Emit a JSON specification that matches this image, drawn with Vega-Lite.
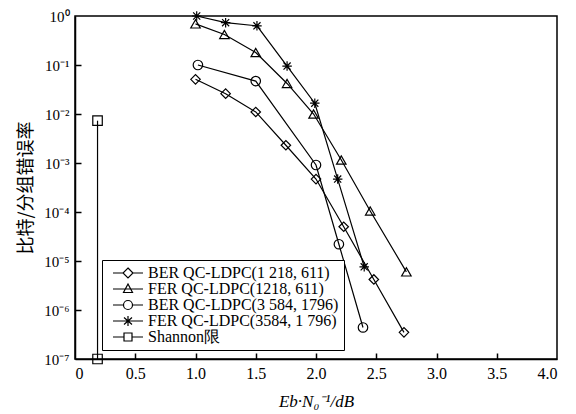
{
  "$schema": "https://vega.github.io/schema/vega-lite/v6.json",
  "width": 482,
  "height": 343,
  "autosize": {"type": "none"},
  "padding": {"left": 75, "top": 16, "right": 19, "bottom": 55},
  "background": "white",
  "config": {
    "font": "Times New Roman",
    "view": {"stroke": "black", "strokeWidth": 1.5},
    "axis": {
      "domainColor": "black",
      "domainWidth": 1.5,
      "tickColor": "black",
      "tickWidth": 1.5,
      "labelColor": "black",
      "titleColor": "black",
      "grid": false
    }
  },
  "data": {
    "values": [
      {"series": "BER QC-LDPC(1 218, 611)", "x": 1.0, "y": 0.051},
      {"series": "BER QC-LDPC(1 218, 611)", "x": 1.25, "y": 0.026},
      {"series": "BER QC-LDPC(1 218, 611)", "x": 1.5, "y": 0.011},
      {"series": "BER QC-LDPC(1 218, 611)", "x": 1.75, "y": 0.0023},
      {"series": "BER QC-LDPC(1 218, 611)", "x": 2.0, "y": 0.00047},
      {"series": "BER QC-LDPC(1 218, 611)", "x": 2.23, "y": 0.00005},
      {"series": "BER QC-LDPC(1 218, 611)", "x": 2.48, "y": 0.0000042},
      {"series": "BER QC-LDPC(1 218, 611)", "x": 2.73, "y": 0.00000035},
      {"series": "FER QC-LDPC(1218, 611)", "x": 1.0, "y": 0.69},
      {"series": "FER QC-LDPC(1218, 611)", "x": 1.24, "y": 0.42},
      {"series": "FER QC-LDPC(1218, 611)", "x": 1.5, "y": 0.18},
      {"series": "FER QC-LDPC(1218, 611)", "x": 1.76, "y": 0.042},
      {"series": "FER QC-LDPC(1218, 611)", "x": 1.98, "y": 0.01},
      {"series": "FER QC-LDPC(1218, 611)", "x": 2.21, "y": 0.00115},
      {"series": "FER QC-LDPC(1218, 611)", "x": 2.45, "y": 0.000105},
      {"series": "FER QC-LDPC(1218, 611)", "x": 2.75, "y": 0.000006},
      {"series": "BER QC-LDPC(3 584, 1796)", "x": 1.02, "y": 0.1},
      {"series": "BER QC-LDPC(3 584, 1796)", "x": 1.5, "y": 0.047},
      {"series": "BER QC-LDPC(3 584, 1796)", "x": 2.0, "y": 0.00091},
      {"series": "BER QC-LDPC(3 584, 1796)", "x": 2.19, "y": 0.000022},
      {"series": "BER QC-LDPC(3 584, 1796)", "x": 2.39, "y": 0.00000044},
      {"series": "FER QC-LDPC(3584, 1 796)", "x": 1.01, "y": 1.0},
      {"series": "FER QC-LDPC(3584, 1 796)", "x": 1.25, "y": 0.73},
      {"series": "FER QC-LDPC(3584, 1 796)", "x": 1.51, "y": 0.63},
      {"series": "FER QC-LDPC(3584, 1 796)", "x": 1.76, "y": 0.095},
      {"series": "FER QC-LDPC(3584, 1 796)", "x": 1.99, "y": 0.0166},
      {"series": "FER QC-LDPC(3584, 1 796)", "x": 2.18, "y": 0.00047},
      {"series": "FER QC-LDPC(3584, 1 796)", "x": 2.4, "y": 0.0000076},
      {"series": "Shannon限", "x": 0.187, "y": 0.0073},
      {"series": "Shannon限", "x": 0.187, "y": 0.0000001}
    ]
  },
  "layer": [
    {
      "mark": {"type": "line", "color": "black", "strokeWidth": 1.2},
      "encoding": {
        "x": {
          "field": "x",
          "type": "quantitative",
          "scale": {"domain": [0, 4], "nice": false, "zero": false},
          "axis": {
            "orient": "bottom",
            "values": [0, 0.5, 1, 1.5, 2, 2.5, 3, 3.5, 4],
            "labelExpr": "datum.value == 0 ? '0' : format(datum.value, '.1f')",
            "ticks": false,
            "labelFont": "Times New Roman",
            "labelFontSize": 16,
            "labelPadding": 6,
            "title": "Eb·N₀⁻¹/dB",
            "titleFont": "Times New Roman",
            "titleFontSize": 17,
            "titleFontStyle": "italic",
            "titleFontWeight": "normal",
            "titlePadding": 12
          }
        },
        "y": {
          "field": "y",
          "type": "quantitative",
          "scale": {"type": "log", "domain": [0.0000001, 1], "nice": false},
          "axis": {
            "orient": "left",
            "values": [0.0000001, 0.000001, 0.00001, 0.0001, 0.001, 0.01, 0.1, 1],
            "labelExpr": "['10⁰','10⁻¹','10⁻²','10⁻³','10⁻⁴','10⁻⁵','10⁻⁶','10⁻⁷'][abs(round(log(datum.value)/LN10))]",
            "ticks": false,
            "labelFont": "Times New Roman",
            "labelFontSize": 15,
            "labelPadding": 6,
            "title": "比特/分组错误率",
            "titleFont": "Noto Sans CJK SC",
            "titleFontSize": 18,
            "titleFontWeight": "normal",
            "titlePadding": 8
          }
        },
        "detail": {"field": "series"}
      }
    },
    {
      "mark": {"type": "point", "filled": false, "color": "black", "strokeWidth": 1.2, "size": 90, "opacity": 1},
      "encoding": {
        "x": {
          "field": "x",
          "type": "quantitative",
          "axis": {
            "orient": "bottom",
            "offset": -6,
            "values": [0.5, 1, 1.5, 2, 2.5, 3, 3.5],
            "domain": false,
            "labels": false,
            "ticks": true,
            "tickSize": 6,
            "title": null
          }
        },
        "y": {
          "field": "y",
          "type": "quantitative",
          "axis": {
            "orient": "left",
            "offset": -6,
            "values": [0.000001, 0.00001, 0.0001, 0.001, 0.01, 0.1],
            "domain": false,
            "labels": false,
            "ticks": true,
            "tickSize": 6,
            "title": null
          }
        },
        "shape": {
          "field": "series",
          "type": "nominal",
          "scale": {
            "domain": ["BER QC-LDPC(1 218, 611)", "FER QC-LDPC(1218, 611)", "BER QC-LDPC(3 584, 1796)", "FER QC-LDPC(3584, 1 796)", "Shannon限"],
            "range": ["diamond", "triangle-up", "circle", "M-1,0L1,0M0,-1L0,1M-0.75,-0.75L0.75,0.75M-0.75,0.75L0.75,-0.75", "square"]
          },
          "legend": null
        }
      }
    },
    {
      "transform": [{"filter": "datum.x < -1"}],
      "mark": {"type": "point", "filled": false, "color": "black", "strokeWidth": 1.2, "size": 100, "opacity": 1},
      "encoding": {
        "x": {"field": "x", "type": "quantitative", "axis": null},
        "y": {"field": "y", "type": "quantitative", "axis": null},
        "shape": {
          "field": "series",
          "type": "nominal",
          "scale": {
            "domain": ["BER QC-LDPC(1 218, 611)", "FER QC-LDPC(1218, 611)", "BER QC-LDPC(3 584, 1796)", "FER QC-LDPC(3584, 1 796)", "Shannon限"],
            "range": [
              "M-3,0L-1,0M1,0L3,0M0,-1L1,0L0,1L-1,0Z",
              "M-3,0L3,0M0,-1L0.9,0.7L-0.9,0.7Z",
              "M-3,0L-0.9,0M0.9,0L3,0M0.9,0A0.9,0.9 0 1,1 -0.9,0A0.9,0.9 0 1,1 0.9,0Z",
              "M-3,0L3,0M0,-1L0,1M-0.8,-0.7L0.8,0.7M-0.8,0.7L0.8,-0.7",
              "M-3,0L-0.8,0M0.8,0L3,0M-0.8,-0.8L0.8,-0.8L0.8,0.8L-0.8,0.8Z"
            ]
          },
          "legend": {
            "title": null,
            "orient": "none",
            "legendX": 27,
            "legendY": 244,
            "direction": "vertical",
            "strokeColor": "black",
            "fillColor": "white",
            "padding": 5,
            "symbolOffset": 13,
            "symbolSize": 100,
            "symbolStrokeWidth": 1.2,
            "symbolStrokeColor": "black",
            "symbolFillColor": "transparent",
            "labelFontSize": 16,
            "labelFont": "Times New Roman",
            "labelColor": "black",
            "labelOffset": 12,
            "rowPadding": 0,
            "labelLimit": 300
          }
        }
      }
    }
  ],
  "resolve": {"scale": {"shape": "independent"}, "axis": {"x": "independent", "y": "independent"}}
}
